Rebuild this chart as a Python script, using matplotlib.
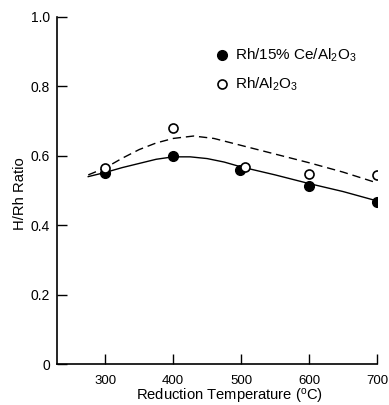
import matplotlib
matplotlib.use("Agg")
import matplotlib.pyplot as plt
from matplotlib.lines import Line2D

plt.rcParams["font.family"] = ["Liberation Sans", "DejaVu Sans"]
plt.rcParams["mathtext.fontset"] = "custom"
plt.rcParams["mathtext.rm"] = "Liberation Sans"
plt.rcParams["mathtext.it"] = "Liberation Sans:italic"

# measured points
temp_ce = [300, 400, 499, 600, 700]
ratio_ce = [0.550, 0.598, 0.560, 0.514, 0.467]
temp_al = [300, 400, 506, 600, 700]
ratio_al = [0.566, 0.680, 0.568, 0.548, 0.545]

# hand-drawn trend curves
solid_t = [275, 300, 325, 350, 375, 400, 425, 450, 475, 500, 550, 600, 650, 700]
solid_y = [0.540, 0.552, 0.566, 0.578, 0.590, 0.597, 0.597, 0.592, 0.582, 0.568, 0.545, 0.520, 0.497, 0.470]
dash_t = [275, 300, 325, 350, 375, 400, 430, 460, 500, 550, 600, 650, 700]
dash_y = [0.545, 0.565, 0.593, 0.618, 0.637, 0.650, 0.657, 0.650, 0.630, 0.605, 0.580, 0.553, 0.522]

xticks = [300, 400, 500, 600, 700]
yticks = [0, 0.2, 0.4, 0.6, 0.8, 1.0]
ytick_labels = ["0", "0.2", "0.4", "0.6", "0.8", "1.0"]

fig = plt.figure(figsize=(3.89, 4.05), dpi=100)
ax = fig.add_axes([57 / 389, 1 - 364 / 405, (377 - 57) / 389, (364 - 17) / 405])

ax.plot(solid_t, solid_y, color="black", linewidth=1.0)
ax.plot(dash_t, dash_y, color="black", linewidth=1.0, dashes=(6, 3.5))
ax.plot(temp_ce, ratio_ce, "o", color="black", markersize=7, zorder=3)
ax.plot(temp_al, ratio_al, "o", markerfacecolor="white", markeredgecolor="black",
        markeredgewidth=1.2, markersize=6.5, zorder=3)

ax.set_xlim(229, 700)
ax.set_ylim(0, 1.0)
ax.set_xticks(xticks)
ax.set_yticks(yticks)
ax.set_yticklabels(ytick_labels)
ax.tick_params(direction="in", length=7, width=1.0, labelsize=9.5, color="black")
ax.tick_params(axis="x", pad=8)
ax.tick_params(axis="y", pad=5, labelsize=10)
for side in ("top", "right"):
    ax.spines[side].set_visible(False)
for side in ("left", "bottom"):
    ax.spines[side].set_linewidth(1.2)

ax.set_xlabel("Reduction Temperature ($^{\\mathrm{o}}$C)", fontsize=10.6)
ax.xaxis.set_label_coords(0.54, -0.065)
ax.set_ylabel("H/Rh Ratio", fontsize=10.6)
ax.yaxis.set_label_coords(-0.095, 0.49)

handles = [
    Line2D([], [], marker="o", linestyle="none", color="black", markersize=7),
    Line2D([], [], marker="o", linestyle="none", markerfacecolor="white",
           markeredgecolor="black", markeredgewidth=1.2, markersize=6.5),
]
ax.legend(handles, ["Rh/15% Ce/Al$_2$O$_3$", "Rh/Al$_2$O$_3$"], loc="upper left",
          bbox_to_anchor=(0.45, 0.953), frameon=False, fontsize=11,
          handletextpad=0.3, labelspacing=0.75, handlelength=1.0)

fig.savefig("out.png", dpi=100)
